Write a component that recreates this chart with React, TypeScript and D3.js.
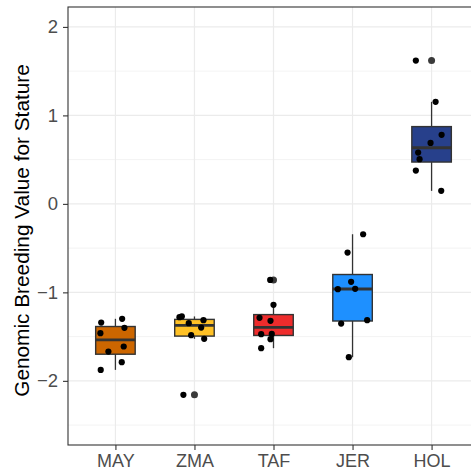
import React, { useEffect, useRef } from 'react';
import * as d3 from 'd3';

const breeds = ['MAY', 'ZMA', 'TAF', 'JER', 'HOL'];
const fills = ['#CC6600', '#FFC125', '#EE2C2C', '#1E90FF', '#27408B'];

// genomic breeding values per breed
const mayValues = [-1.341, -1.299, -1.461, -1.401, -1.669, -1.612, -1.789, -1.876];
const zmaValues = [-1.28, -1.272, -1.348, -1.314, -1.398, -1.484, -1.525, -2.158];
const tafValues = [-0.859, -1.141, -1.288, -1.322, -1.473, -1.47, -1.529, -1.631];
const jerValues = [-0.343, -0.55, -0.881, -0.964, -0.96, -1.353, -1.314, -1.733];
const holValues = [1.619, 1.153, 0.78, 0.689, 0.58, 0.505, 0.376, 0.147];

// jitter offsets (fraction of category step), same order as the values
const mayJitter = [-0.18, 0.085, -0.19, 0.114, -0.089, 0.105, 0.08, -0.186];
const zmaJitter = [-0.19, -0.16, -0.072, 0.114, 0.085, -0.042, 0.123, -0.14];
const tafJitter = [-0.042, 0.0, -0.177, -0.038, -0.156, -0.022, -0.038, -0.156];
const jerJitter = [0.134, -0.063, -0.018, -0.186, 0.033, -0.144, 0.185, -0.047];
const holJitter = [-0.199, 0.051, 0.127, -0.013, -0.17, -0.152, -0.199, 0.122];

const yTicks = [-2, -1, 0, 1, 2];
const yMinor = [-2.5, -1.5, -0.5, 0.5, 1.5];

const groups = [
  { name: breeds[0], values: mayValues, jitter: mayJitter },
  { name: breeds[1], values: zmaValues, jitter: zmaJitter },
  { name: breeds[2], values: tafValues, jitter: tafJitter },
  { name: breeds[3], values: jerValues, jitter: jerJitter },
  { name: breeds[4], values: holValues, jitter: holJitter },
];

const App = () => {
  const svgRef = useRef(null);

  useEffect(() => {
    const svg = d3.select(svgRef.current);
    svg.selectAll('*').remove();

    const W = 471, H = 473;
    const left = 68, top = 7, bottom = 445, right = 479;
    const font = 'Liberation Sans, Arial, sans-serif';

    const x = d3.scalePoint().domain(breeds).range([left, right]).padding(0.6);
    const step = x.step();
    const y = d3.scaleLinear().domain([-2.725, 2.225]).range([bottom, top]);

    svg.append('rect').attr('width', W).attr('height', H).attr('fill', '#fff');

    // grid
    svg.selectAll('.minor').data(yMinor).enter().append('line')
      .attr('x1', left).attr('x2', right)
      .attr('y1', d => y(d)).attr('y2', d => y(d))
      .attr('stroke', '#EBEBEB').attr('stroke-width', 0.6);
    svg.selectAll('.major').data(yTicks).enter().append('line')
      .attr('x1', left).attr('x2', right)
      .attr('y1', d => y(d)).attr('y2', d => y(d))
      .attr('stroke', '#EBEBEB').attr('stroke-width', 1.2);
    svg.selectAll('.vmajor').data(breeds).enter().append('line')
      .attr('x1', d => x(d)).attr('x2', d => x(d))
      .attr('y1', top).attr('y2', bottom)
      .attr('stroke', '#EBEBEB').attr('stroke-width', 1.2);

    const boxW = step * 0.5;

    groups.forEach((g, i) => {
      const cx = x(g.name);
      const sorted = g.values.slice().sort(d3.ascending);
      const q1 = d3.quantile(sorted, 0.25);
      const med = d3.quantile(sorted, 0.5);
      const q3 = d3.quantile(sorted, 0.75);
      const iqr = q3 - q1;
      const lo = sorted.filter(v => v >= q1 - 1.5 * iqr)[0];
      const inside = sorted.filter(v => v <= q3 + 1.5 * iqr);
      const hi = inside[inside.length - 1];
      const outliers = sorted.filter(v => v < q1 - 1.5 * iqr || v > q3 + 1.5 * iqr);

      svg.append('line').attr('x1', cx).attr('x2', cx)
        .attr('y1', y(hi)).attr('y2', y(q3))
        .attr('stroke', '#333').attr('stroke-width', 1.3);
      svg.append('line').attr('x1', cx).attr('x2', cx)
        .attr('y1', y(q1)).attr('y2', y(lo))
        .attr('stroke', '#333').attr('stroke-width', 1.3);
      svg.append('rect')
        .attr('x', cx - boxW / 2).attr('width', boxW)
        .attr('y', y(q3)).attr('height', y(q1) - y(q3))
        .attr('fill', fills[i]).attr('stroke', '#333').attr('stroke-width', 1.4);
      svg.append('line')
        .attr('x1', cx - boxW / 2).attr('x2', cx + boxW / 2)
        .attr('y1', y(med)).attr('y2', y(med))
        .attr('stroke', '#333').attr('stroke-width', 2.8);

      svg.selectAll(`.out-${i}`).data(outliers).enter().append('circle')
        .attr('cx', cx).attr('cy', d => y(d)).attr('r', 3.5)
        .attr('fill', '#3a3a3a');

      svg.selectAll(`.pt-${i}`).data(g.values).enter().append('circle')
        .attr('cx', (d, j) => cx + g.jitter[j] * step)
        .attr('cy', d => y(d)).attr('r', 3.1)
        .attr('fill', '#000');
    });

    // panel border
    svg.append('rect')
      .attr('x', left).attr('y', top)
      .attr('width', right - left).attr('height', bottom - top)
      .attr('fill', 'none').attr('stroke', '#333').attr('stroke-width', 1.1);

    // y axis
    const yAxis = svg.append('g').attr('transform', `translate(${left},0)`)
      .call(d3.axisLeft(y).tickValues(yTicks).tickSize(5).tickPadding(5)
        .tickFormat(d => d3.format('d')(d).replace('-', '\u2212')));
    yAxis.select('.domain').remove();
    yAxis.selectAll('line').attr('stroke', '#333').attr('stroke-width', 1.1);
    yAxis.selectAll('text').attr('fill', '#4D4D4D')
      .style('font-family', font).style('font-size', '18.5px');

    // x axis
    const xAxis = svg.append('g').attr('transform', `translate(0,${bottom})`)
      .call(d3.axisBottom(x).tickSize(5).tickPadding(4));
    xAxis.select('.domain').remove();
    xAxis.selectAll('line').attr('stroke', '#333').attr('stroke-width', 1.1);
    xAxis.selectAll('text').attr('fill', '#4D4D4D')
      .style('font-family', font).style('font-size', '18px');

    svg.append('text')
      .attr('transform', `translate(29,230.5) rotate(-90)`)
      .attr('text-anchor', 'middle')
      .style('font-family', font).style('font-size', '20.8px')
      .attr('fill', '#000')
      .text('Genomic Breeding Value for Stature');
  }, []);

  return (
    <svg ref={svgRef} width={471} height={473}
      style={{ position: 'absolute', left: 0, top: 0 }} />
  );
};

export default App;
